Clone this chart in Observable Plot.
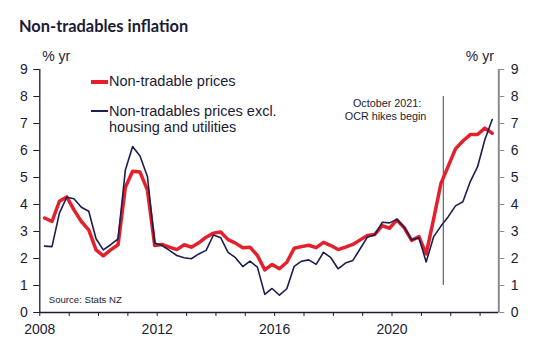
<!DOCTYPE html>
<html>
<head>
<meta charset="utf-8">
<script src="https://cdn.jsdelivr.net/npm/d3@7"></script>
<script src="https://cdn.jsdelivr.net/npm/@observablehq/plot@0.6"></script>
<style>
  body { margin: 0; background: #fff; }
  #wrap { position: relative; width: 538px; height: 360px; overflow: hidden; background: #fff; }
  #title { position: absolute; left: 19px; top: 15.5px; font: 700 16.4px Lato, sans-serif; line-height: 20px; color: #1b1b33; white-space: nowrap; }
  #chart { position: absolute; left: 0; top: 40px; }
  .lg { position: absolute; font-family: "Liberation Sans", Arial, sans-serif; font-size: 14.5px; line-height: 16px; color: #1b1b33; white-space: nowrap; }
  .sw { position: absolute; left: 91px; width: 17px; }
</style>
</head>
<body>
<div id="wrap">
  <div id="title">Non-tradables inflation</div>
  <div id="chart"></div>
  <div class="sw" style="top:80px;height:3.5px;background:#e3202b"></div>
  <div class="lg" style="left:109px;top:73px">Non-tradable prices</div>
  <div class="sw" style="top:110.2px;height:1.7px;background:#1d1d4f"></div>
  <div class="lg" style="left:109px;top:103px">Non-tradables prices excl.<br>housing and utilities</div>
</div>
<script>
// Quarterly annual % change, Mar 2008 quarter to Jun 2023 quarter
const firstQuarter = "2008-03-01";
const lastQuarter = "2023-06-01";
const nonTradable = [
  3.50, 3.37, 4.12, 4.28,
  3.80, 3.37, 3.06, 2.32,
  2.10, 2.32, 2.51, 4.64,
  5.23, 5.20, 4.54, 2.48,
  2.52, 2.42, 2.33, 2.51,
  2.42, 2.58, 2.79, 2.94,
  2.98, 2.70, 2.57, 2.40,
  2.42, 2.11, 1.58, 1.78,
  1.62, 1.86, 2.38, 2.44,
  2.49, 2.40, 2.60, 2.48,
  2.33, 2.42, 2.52, 2.69,
  2.85, 2.89, 3.22, 3.12,
  3.43, 3.14, 2.67, 2.81,
  2.17, 3.45, 4.78, 5.42,
  6.06, 6.35, 6.59, 6.59,
  6.83, 6.64
];
const nonTradableExHousing = [
  2.46, 2.44, 3.68, 4.27,
  4.21, 3.90, 3.75, 2.73,
  2.32, 2.51, 2.73, 5.28,
  6.15, 5.80, 5.04, 2.57,
  2.48, 2.30, 2.11, 2.03,
  1.99, 2.17, 2.30, 2.87,
  2.77, 2.23, 2.03, 1.70,
  1.90, 1.68, 0.67, 0.89,
  0.64, 0.88, 1.71, 1.90,
  1.95, 1.78, 2.23, 2.03,
  1.62, 1.83, 1.93, 2.36,
  2.79, 2.88, 3.34, 3.32,
  3.45, 3.16, 2.69, 2.77,
  1.87, 2.80, 3.20, 3.55,
  3.95, 4.10, 4.85, 5.40,
  6.40, 7.15
];
const yTicks = [0, 1, 2, 3, 4, 5, 6, 7, 8, 9];
const xLabelYears = [2008, 2012, 2016, 2020];
const xStart = "2008-01-01";
const xEnd = "2023-08-22";
const ocrDate = "2021-10-01";
const ocrLabel1 = "October 2021:";
const ocrLabel2 = "OCR hikes begin";
const sourceText = "Source: Stats NZ";
const unitText = "% yr";

const red = "#e3202b";
const navy = "#1d1d4f";
const ink = "#1b1b33";
const grey = "#8c8c8c";

const quarters = d3.utcMonths(new Date(firstQuarter), d3.utcMonth.offset(new Date(lastQuarter), 1), 3);
const data = quarters.map((date, i) => ({date, nt: nonTradable[i], ntx: nonTradableExHousing[i]}));
const x0 = new Date(xStart), x1 = new Date(xEnd), ocr = new Date(ocrDate);

const chart = Plot.plot({
  width: 538,
  height: 320,
  marginTop: 29,
  marginBottom: 48,
  marginLeft: 39.3,
  marginRight: 39.7,
  x: {type: "utc", domain: [x0, x1]},
  y: {domain: [0, 9]},
  style: {fontFamily: "'Liberation Sans', Arial, sans-serif", fontSize: "14px", color: ink, background: "transparent", overflow: "visible"},
  marks: [
    Plot.axisX({ticks: d3.utcYear.every(1), tickFormat: d => xLabelYears.includes(d.getUTCFullYear()) ? String(d.getUTCFullYear()) : "", tickSize: 4, tickPadding: 8, label: null}),
    Plot.axisY({anchor: "left", ticks: yTicks, tickSize: 6, tickPadding: 6, label: null}),
    Plot.axisY({anchor: "right", ticks: yTicks, tickSize: 5, tickPadding: 7, label: null, stroke: grey}),
    Plot.ruleX([x0], {stroke: ink, strokeWidth: 1.3}),
    Plot.ruleX([x1], {stroke: grey, strokeWidth: 2}),
    Plot.ruleY([0], {stroke: ink, strokeWidth: 1.3}),
    Plot.ruleX([ocr], {y1: 1, y2: 8, stroke: "#6e6e6e", strokeWidth: 1.3}),
    Plot.line(data, {x: "date", y: "nt", stroke: red, strokeWidth: 3.5}),
    Plot.line(data, {x: "date", y: "ntx", stroke: navy, strokeWidth: 1.6}),
    Plot.text([ocrLabel1], {x: () => ocr, y: () => 7.74, textAnchor: "end", dx: -22, fontSize: 10.8}),
    Plot.text([ocrLabel2], {x: () => ocr, y: () => 7.26, textAnchor: "end", dx: -17, fontSize: 10.8}),
    Plot.text([sourceText], {frameAnchor: "bottom-left", textAnchor: "start", lineAnchor: "middle", dx: 9, dy: -12.7, fontSize: 9.6}),
    Plot.text([unitText], {frameAnchor: "top-left", textAnchor: "start", lineAnchor: "middle", dx: 2.4, dy: -12.5, fontSize: 14}),
    Plot.text([unitText], {frameAnchor: "top-right", textAnchor: "end", lineAnchor: "middle", dx: -5, dy: -12.5, fontSize: 14})
  ]
});
document.getElementById("chart").appendChild(chart);
</script>
</body>
</html>
